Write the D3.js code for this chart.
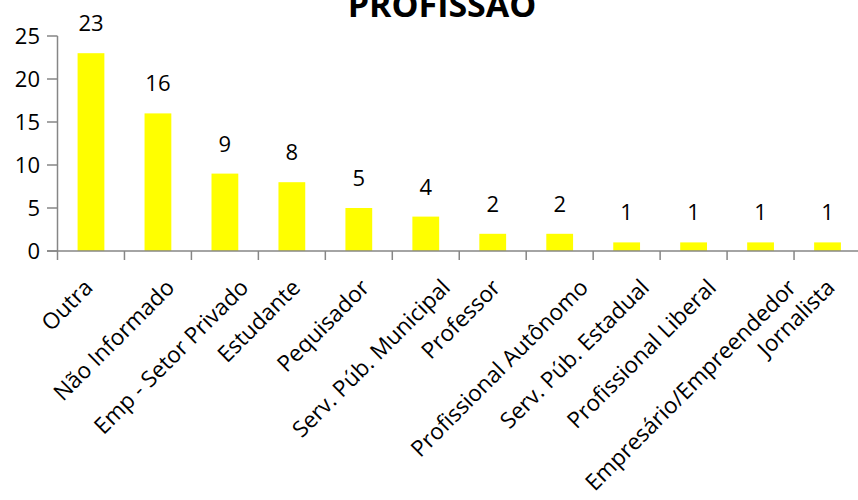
<!DOCTYPE html>
<html>
<head>
<meta charset="utf-8">
<script src="https://cdn.jsdelivr.net/npm/d3@7"></script>
<style>
  html, body { margin: 0; padding: 0; background: #fff; }
  svg { display: block; }
  text { font-family: "Open Sans", Lato, sans-serif; fill: #000; }
</style>
</head>
<body>
<svg id="chart" width="858" height="500"></svg>
<script>
const title = "PROFISSÃO";
const categories = ["Outra", "Não Informado", "Emp - Setor Privado", "Estudante", "Pequisador",
  "Serv. Púb. Municipal", "Professor", "Profissional Autônomo", "Serv. Púb. Estadual",
  "Profissional Liberal", "Empresário/Empreendedor", "Jornalista"];
const values = [23, 16, 9, 8, 5, 4, 2, 2, 1, 1, 1, 1];
const yTicks = [0, 5, 10, 15, 20, 25];

const svg = d3.select("#chart");
const axisColor = "#868686";
const x0 = 57.5, x1 = 861, yBase = 251, yTop = 36;

const x = d3.scaleBand().domain(categories).range([x0, x1]).paddingInner(0.6).paddingOuter(0.3);
const y = d3.scaleLinear().domain([0, 25]).range([yBase, yTop]);

// bars
svg.append("g").selectAll("rect").data(categories).join("rect")
  .attr("x", d => x(d))
  .attr("y", (d, i) => y(values[i]))
  .attr("width", x.bandwidth())
  .attr("height", (d, i) => y(0) - y(values[i]))
  .attr("fill", "#FFFF00");

// y axis
const yAxis = svg.append("g");
yAxis.append("line").attr("x1", x0).attr("x2", x0).attr("y1", y(25)).attr("y2", yBase + 9)
  .attr("stroke", axisColor).attr("stroke-width", 1.5);
yAxis.selectAll("line.t").data(yTicks).join("line").attr("class", "t")
  .attr("x1", x0 - 10.5).attr("x2", x0).attr("y1", d => y(d)).attr("y2", d => y(d))
  .attr("stroke", axisColor).attr("stroke-width", 1.5);
yAxis.selectAll("text").data(yTicks).join("text")
  .attr("x", 40).attr("y", d => y(d)).attr("dy", "0.36em")
  .attr("text-anchor", "end").attr("font-size", 22)
  .text(d => d);

// x axis
const xAxis = svg.append("g");
xAxis.append("line").attr("x1", x0 - 10.5).attr("x2", 858).attr("y1", yBase).attr("y2", yBase)
  .attr("stroke", axisColor).attr("stroke-width", 1.5);
const bounds = categories.map(c => x(c) + x.bandwidth() / 2 - x.step() / 2);
xAxis.selectAll("line.t").data(bounds.slice(1)).join("line").attr("class", "t")
  .attr("x1", d => d).attr("x2", d => d).attr("y1", yBase).attr("y2", yBase + 9)
  .attr("stroke", axisColor).attr("stroke-width", 1.5);

// category labels
xAxis.selectAll("text").data(categories).join("text")
  .attr("text-anchor", "end").attr("font-size", 22.5)
  .text(d => d)
  .each(function(d) {
    const L = this.getComputedTextLength();
    const cx = x(d) + x.bandwidth() / 2 + 0.15 * L - 6;
    const cy = 289;
    d3.select(this).attr("transform", `translate(${cx},${cy}) rotate(-45)`);
  });

// value labels
svg.append("g").selectAll("text").data(categories).join("text")
  .attr("x", d => x(d) + x.bandwidth() / 2)
  .attr("y", (d, i) => y(values[i]) - 22)
  .attr("text-anchor", "middle").attr("font-size", 22)
  .text((d, i) => values[i]);

// title
svg.append("text").attr("x", 442).attr("y", 17).attr("text-anchor", "middle")
  .attr("font-size", 34).attr("font-weight", "bold").text(title);
</script>
</body>
</html>
